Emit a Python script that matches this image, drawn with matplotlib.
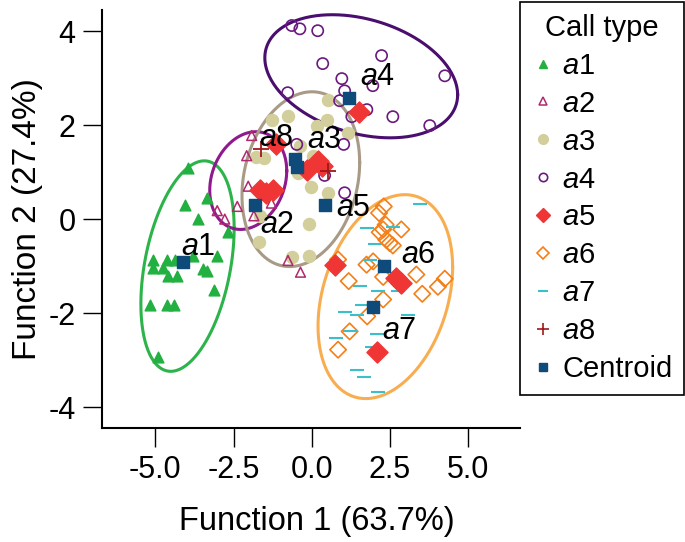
import numpy as np
import matplotlib
matplotlib.use('Agg')
import matplotlib.pyplot as plt
from matplotlib.lines import Line2D

plt.rcParams['font.family'] = ['Liberation Sans', 'DejaVu Sans']
plt.rcParams['mathtext.fontset'] = 'custom'
plt.rcParams['mathtext.it'] = 'Liberation Sans:italic'
plt.rcParams['mathtext.rm'] = 'Liberation Sans'
plt.rcParams['axes.unicode_minus'] = False

# discriminant scores per call type (Function 1, Function 2)
a1_x = [-3.95, -4.05, -3.34, -3.65, -2.67, -3.79, -3.04, -5.07, -4.64, -4.37, -5.07,
        -4.75, -4.59, -4.30, -3.47, -3.36, -3.12, -5.17, -4.64, -4.40, -4.91]
a1_y = [1.09, 0.31, 0.45, 0.00, -0.28, -0.78, -0.78, -0.88, -0.86, -0.86, -1.04,
        -1.04, -1.22, -1.22, -1.07, -1.10, -1.51, -1.82, -1.82, -1.82, -2.94]

a2_x = [-1.92, -2.08, -2.03, -3.02, -2.78, -2.38, -1.29, -1.85, -0.76, -0.36]
a2_y = [1.78, 1.35, 0.70, 0.18, 0.00, 0.27, 0.34, 0.07, -0.88, -1.13]

a3_x = [0.51, -0.77, -1.28, 0.48, 0.16, 1.15, -1.79, -1.53, 0.03, -0.45, -0.03,
        0.51, -1.66, -0.10, -1.69, -0.64, -0.10, -0.38]
a3_y = [2.54, 2.20, 2.10, 2.10, 1.99, 1.84, 1.33, 1.31, 1.35, 0.99, 0.69,
        0.56, 0.07, -0.10, -0.48, -0.80, -0.78, 1.56]

a4_x = [-0.64, -0.38, 0.19, 2.23, 0.35, 4.25, 0.96, 1.95, 1.05, -0.77, 1.76,
        1.28, 2.59, 3.77, -0.48, 1.02, 0.41, 1.05, 0.89]
a4_y = [4.12, 4.05, 4.01, 3.48, 3.31, 3.05, 2.99, 2.84, 2.73, 2.69, 2.33,
        2.18, 2.18, 1.99, 1.59, 1.59, 0.93, 0.56, 2.52]

a5_x = [1.50, -1.15, -0.15, 0.20, 0.34, -1.66, -1.45, -1.23, 0.73, 2.70, 2.86, 2.08]
a5_y = [2.27, 1.59, 1.05, 1.23, 1.14, 0.63, 0.56, 0.61, -0.97, -1.25, -1.36, -2.83]

a6_x = [2.30, 2.15, 2.36, 2.28, 2.17, 2.86, 2.38, 2.49, 2.59, 1.75, 1.96,
        0.84, 1.18, 2.28, 3.34, 4.25, 4.03, 3.53, 2.28, 1.77, 1.21, 0.84]
a6_y = [0.27, 0.13, -0.12, -0.22, -0.28, -0.22, -0.44, -0.51, -0.56, -0.97, -0.90,
        -0.86, -1.32, -1.23, -1.18, -1.27, -1.44, -1.59, -1.71, -2.07, -2.39, -2.78]

a7_x = [3.45, 1.75, 2.59, 2.01, 1.85, 1.53, 2.12, 2.75, 1.59, 1.05, 1.43,
        3.07, 1.21, 2.07, 0.79, 1.91, 2.12, 1.45, 1.66, 2.12]
a7_y = [0.32, -0.19, -0.17, -0.53, -0.86, -1.43, -1.52, -1.54, -1.82, -1.97, -2.05,
        -2.05, -2.39, -2.44, -2.54, -2.73, -2.86, -3.22, -3.36, -3.68]

a8_x = [-1.63, 0.52]
a8_y = [1.49, 1.02]

# group centroids a1..a8
cent_x = [-4.13, -1.82, -0.47, 1.19, 0.41, 2.31, 1.96, -0.54]
cent_y = [-0.92, 0.29, 1.11, 2.57, 0.29, -0.99, -1.87, 1.28]

# where the group names are written
lab_names = ['a1', 'a2', 'a3', 'a4', 'a5', 'a6', 'a7', 'a8']
lab_x = [-3.64, -1.09, 0.41, 2.11, 1.33, 3.40, 2.81, -1.12]
lab_y = [-0.59, -0.12, 1.69, 3.03, 0.24, -0.76, -2.39, 1.73]

# confidence ellipses: centre, sd x, sd y, correlation
ell_cx = [-3.97, -2.03, -0.35, 1.58, 2.35]
ell_cy = [-1.00, 0.82, 0.85, 3.04, -1.65]
ell_sx = [1.49, 1.23, 1.88, 3.08, 2.15]
ell_sy = [2.24, 1.04, 1.86, 1.31, 2.17]
ell_r = [0.36, 0.20, 0.19, -0.30, 0.29]
ell_col = ['#2cb34a', '#8e1a8e', '#a89a86', '#4a0e6e', '#f8ae50']

fig = plt.figure(figsize=(6.85, 5.42), dpi=100)
ax = fig.add_axes([0.149, 0.21, 0.61, 0.7715])

t = np.linspace(0, 2 * np.pi, 300)
for cx, cy, sx, sy, r, c in zip(ell_cx, ell_cy, ell_sx, ell_sy, ell_r, ell_col):
    cov = np.array([[sx * sx, r * sx * sy], [r * sx * sy, sy * sy]])
    L = np.linalg.cholesky(cov)
    pts = L @ np.vstack([np.cos(t), np.sin(t)])
    ax.plot(cx + pts[0], cy + pts[1], color=c, lw=2.2, zorder=1)

ax.scatter(a1_x, a1_y, marker='^', s=60, color='#22b040', zorder=3)
ax.scatter(a2_x, a2_y, marker='^', s=50, facecolors='none', edgecolors='#b0286e', lw=1.1, zorder=3)
ax.scatter(a3_x, a3_y, marker='o', s=75, color='#d3cf9c', zorder=2)
ax.scatter(a4_x, a4_y, marker='o', s=65, facecolors='none', edgecolors='#6a1a7e', lw=1.2, zorder=3)
ax.scatter(a5_x, a5_y, marker='D', s=115, color='#f03535', zorder=4)
ax.scatter(a6_x, a6_y, marker='D', s=70, facecolors='none', edgecolors='#f57f17', lw=1.2, zorder=3)
ax.scatter(a7_x, a7_y, marker='_', s=100, color='#3bbfca', lw=1.5, zorder=3)
ax.scatter(a8_x, a8_y, marker='+', s=120, color='#a01818', lw=1.3, zorder=5)
ax.scatter(cent_x, cent_y, marker='s', s=65, color='#0e4a7a', zorder=6)

for name, x, y in zip(lab_names, lab_x, lab_y):
    ax.text(x, y, r'$' + name[0] + r'$' + name[1:], fontsize=22,
            ha='center', va='center', zorder=7)

ax.set_xlim(-6.7, 6.65)
ax.set_ylim(-4.45, 4.45)
ax.set_xticks([-5.0, -2.5, 0.0, 2.5, 5.0])
ax.set_xticklabels(['-5.0', '-2.5', '0.0', '2.5', '5.0'])
ax.set_yticks([-4, -2, 0, 2, 4])
ax.tick_params(labelsize=22, length=14, width=1, pad=5)
for s in ['top', 'right']:
    ax.spines[s].set_visible(False)
for s in ['left', 'bottom']:
    ax.spines[s].set_linewidth(1.5)
ax.set_xlabel('Function 1 (63.7%)', fontsize=23.5)
ax.xaxis.set_label_coords(0.515, -0.185)
ax.set_ylabel('Function 2 (27.4%)', fontsize=24, labelpad=4)

handles = [
    Line2D([], [], ls='none', marker='^', ms=6, color='#22b040'),
    Line2D([], [], ls='none', marker='^', ms=6, mfc='none', mec='#b0286e', mew=1.1),
    Line2D([], [], ls='none', marker='o', ms=7, color='#d3cf9c'),
    Line2D([], [], ls='none', marker='o', ms=6, mfc='none', mec='#6a1a7e', mew=1.2),
    Line2D([], [], ls='none', marker='D', ms=7, color='#f03535'),
    Line2D([], [], ls='none', marker='D', ms=6, mfc='none', mec='#f57f17', mew=1.2),
    Line2D([], [], ls='none', marker='_', ms=7, color='#3bbfca', mew=1.5),
    Line2D([], [], ls='none', marker='+', ms=8, color='#a01818', mew=1.2),
    Line2D([], [], ls='none', marker='s', ms=6, color='#0e4a7a'),
]
labels = [r'$a$1', r'$a$2', r'$a$3', r'$a$4', r'$a$5', r'$a$6', r'$a$7', r'$a$8', 'Centroid']
leg = fig.legend(handles, labels, title='Call type', loc='upper left',
                 bbox_to_anchor=(0.759, 0.996), fontsize=21, title_fontsize=21,
                 frameon=True, fancybox=False, framealpha=1, edgecolor='black',
                 borderpad=0.4, labelspacing=0.34, handletextpad=0.25, handlelength=0.8,
                 borderaxespad=0)
leg.get_frame().set_linewidth(1.2)

fig.savefig('out.png', dpi=100)
